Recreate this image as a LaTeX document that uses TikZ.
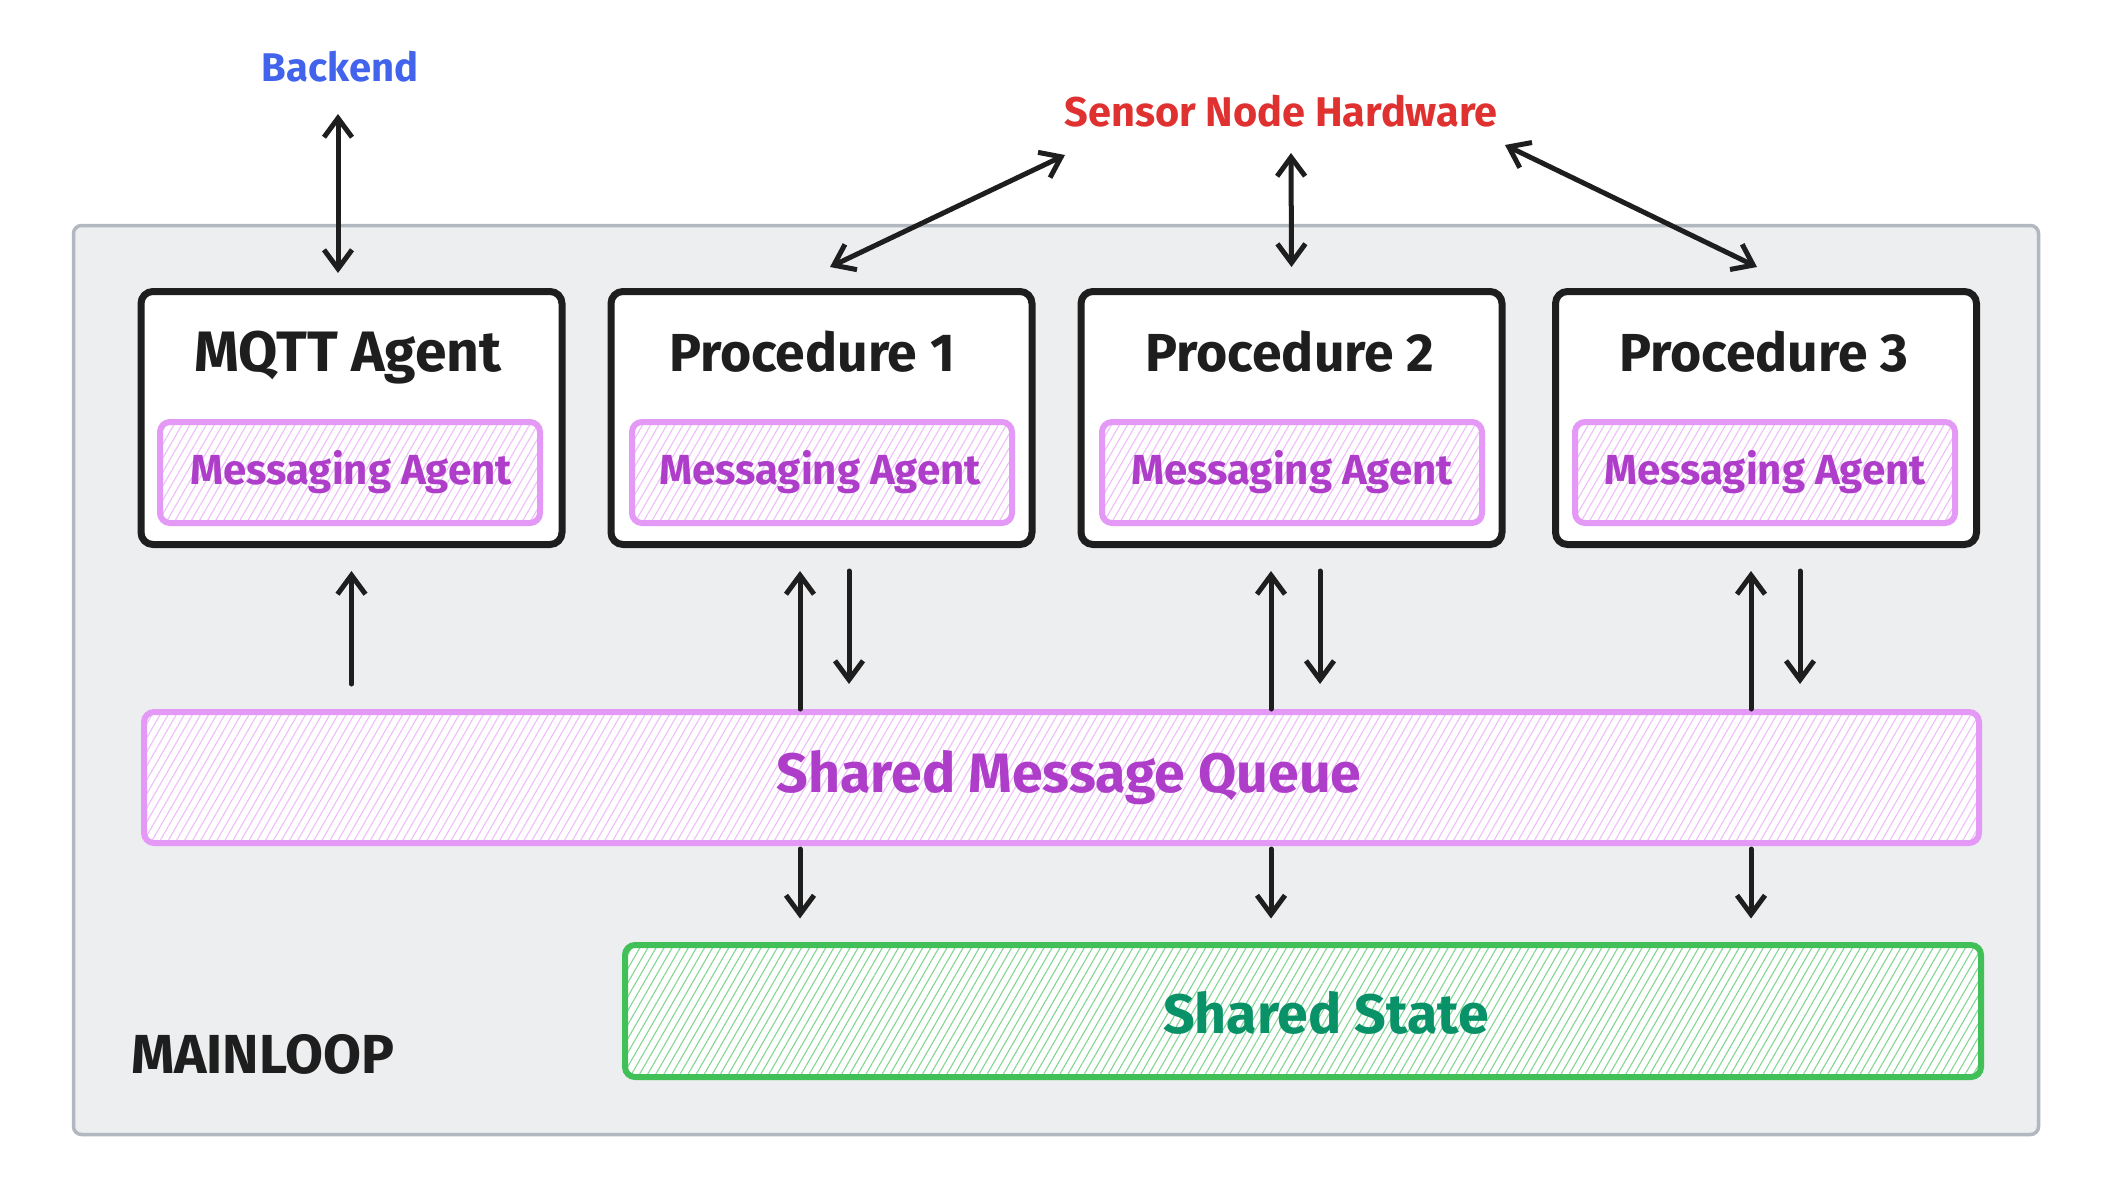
\documentclass[tikz,border=0pt]{standalone}
\usepackage{fontspec}
\setmainfont{Fira Sans}
\usetikzlibrary{arrows.meta,patterns.meta}
\definecolor{dark}{HTML}{1E1E1E}
\definecolor{blueT}{HTML}{4263EB}
\definecolor{redT}{HTML}{E03131}
\definecolor{pinkS}{HTML}{E599F7}
\definecolor{pinkT}{HTML}{AE3EC9}
\definecolor{greenS}{HTML}{40C057}
\definecolor{greenT}{HTML}{099268}
\definecolor{frameF}{HTML}{ECEEF0}
\definecolor{frameS}{HTML}{B1B8BF}
\tikzset{
  conn/.style={draw=dark, line width=5pt, line cap=round, line join=round},
  uni/.style={conn, -{Straight Barb[length=19pt,width=28pt]}},
  bi/.style={conn, {Straight Barb[length=19pt,width=28pt]}-{Straight Barb[length=19pt,width=28pt]}},
  framebox/.style={draw=frameS, line width=3.5pt, fill=frameF, rounded corners=8pt, inner sep=0pt},
  procbox/.style={draw=dark, line width=7pt, fill=white, rounded corners=12pt,
    minimum width=421pt, minimum height=253pt, inner sep=0pt},
  pinkbox/.style={draw=pinkS, line width=6pt, rounded corners=10pt, inner sep=0pt,
    preaction={fill=white},
    pattern={Lines[angle=60,distance=7pt,line width=1.1pt]}, pattern color=pinkS!65},
  greenbox/.style={draw=greenS, line width=6pt, rounded corners=10pt, inner sep=0pt,
    preaction={fill=white},
    pattern={Lines[angle=60,distance=7pt,line width=1.1pt]}, pattern color=greenS!65},
  label/.style={anchor=base, inner sep=0pt, font=\bfseries},
}
\begin{document}
\begin{tikzpicture}[x=1pt,y=-1pt]
\useasboundingbox (0,0) rectangle (2103,1202);
% main frame
\node[framebox, minimum width=1965pt, minimum height=909pt] (frame) at (1056,680) {};
\node[label, anchor=base west, text=dark, font=\bfseries\fontsize{55}{57}\selectfont] (mainloop) at (131,1073) {MAINLOOP};
% external labels
\node[label, text=blueT, font=\bfseries\fontsize{40}{42}\selectfont] (backend) at (340,81) {Backend};
\node[label, text=redT, font=\bfseries\fontsize{41.5}{43}\selectfont] (sensor) at (1281,126) {Sensor Node Hardware};
% procedure boxes
\node[procbox] (mqtt) at (351.5,418) {};
\node[procbox] (p1) at (821.5,418) {};
\node[procbox] (p2) at (1291.5,418) {};
\node[procbox] (p3) at (1766,418) {};
\node[label, text=dark, font=\bfseries\fontsize{57}{59}\selectfont] (mqttT) at (348,371) {MQTT Agent};
\node[label, text=dark, font=\bfseries\fontsize{53.5}{55}\selectfont] (p1T) at (812,371) {Procedure 1};
\node[label, text=dark, font=\bfseries\fontsize{53.5}{55}\selectfont] (p2T) at (1290,371) {Procedure 2};
\node[label, text=dark, font=\bfseries\fontsize{53.5}{55}\selectfont] (p3T) at (1764,371) {Procedure 3};
% messaging agents
\node[pinkbox, minimum width=380pt, minimum height=101pt] (ma0) at (350,472.5) {};
\node[pinkbox, minimum width=380pt, minimum height=101pt] (ma1) at (822,472.5) {};
\node[pinkbox, minimum width=380pt, minimum height=101pt] (ma2) at (1292,472.5) {};
\node[pinkbox, minimum width=380pt, minimum height=101pt] (ma3) at (1765,472.5) {};
\node[label, text=pinkT, font=\bfseries\fontsize{42}{44}\selectfont] (ma0T) at (351,484) {Messaging Agent};
\node[label, text=pinkT, font=\bfseries\fontsize{42}{44}\selectfont] (ma1T) at (820,484) {Messaging Agent};
\node[label, text=pinkT, font=\bfseries\fontsize{42}{44}\selectfont] (ma2T) at (1292,484) {Messaging Agent};
\node[label, text=pinkT, font=\bfseries\fontsize{42}{44}\selectfont] (ma3T) at (1765,484) {Messaging Agent};
% shared queue and state
\node[pinkbox, minimum width=1835pt, minimum height=131pt] (smq) at (1061.5,777.5) {};
\node[label, text=pinkT, font=\bfseries\fontsize{55.5}{57}\selectfont] (smqT) at (1069,792) {Shared Message Queue};
\node[greenbox, minimum width=1356pt, minimum height=132pt] (ss) at (1303,1011) {};
\node[label, text=greenT, font=\bfseries\fontsize{55.5}{57}\selectfont] (ssT) at (1326,1033) {Shared State};
% external connectors
\draw[bi] ([shift={(-2,33)}]backend.base) -- ([shift={(-13.5,-15)}]mqtt.north);
\draw[bi] ([shift={(-216,29)}]sensor.base) -- ([shift={(8.5,-21)}]p1.north);
\draw[bi] ([shift={(10,27)}]sensor.base) -- ([shift={(0,-21)}]p2.north);
\draw[bi] ([shift={(224,19)}]sensor.base) -- ([shift={(-9,-21)}]p3.north);
% queue to agents
\draw[uni] ([yshift=25pt]mqtt.south |- smq.north) -- ([yshift=-23pt]mqtt.south);
\draw[uni] ([xshift=-21.5pt]p1.south |- smq.north) -- ([xshift=-21.5pt,yshift=-23pt]p1.south);
\draw[uni] ([xshift=27.5pt,yshift=-23pt]p1.south) -- ([xshift=27.5pt,yshift=25pt]p1.south |- smq.north);
\draw[uni] ([xshift=-20.5pt]p2.south |- smq.north) -- ([xshift=-20.5pt,yshift=-23pt]p2.south);
\draw[uni] ([xshift=28.5pt,yshift=-23pt]p2.south) -- ([xshift=28.5pt,yshift=25pt]p2.south |- smq.north);
\draw[uni] ([xshift=-15pt]p3.south |- smq.north) -- ([xshift=-15pt,yshift=-23pt]p3.south);
\draw[uni] ([xshift=34pt,yshift=-23pt]p3.south) -- ([xshift=34pt,yshift=25pt]p3.south |- smq.north);
% queue to state
\draw[uni] ([xshift=-21.5pt,yshift=-3pt]p1.south |- smq.south) -- ([xshift=-21.5pt,yshift=23.5pt]p1.south |- ss.north);
\draw[uni] ([xshift=-20.5pt,yshift=-3pt]p2.south |- smq.south) -- ([xshift=-20.5pt,yshift=23.5pt]p2.south |- ss.north);
\draw[uni] ([xshift=-15pt,yshift=-3pt]p3.south |- smq.south) -- ([xshift=-15pt,yshift=23.5pt]p3.south |- ss.north);
\end{tikzpicture}
\end{document}
